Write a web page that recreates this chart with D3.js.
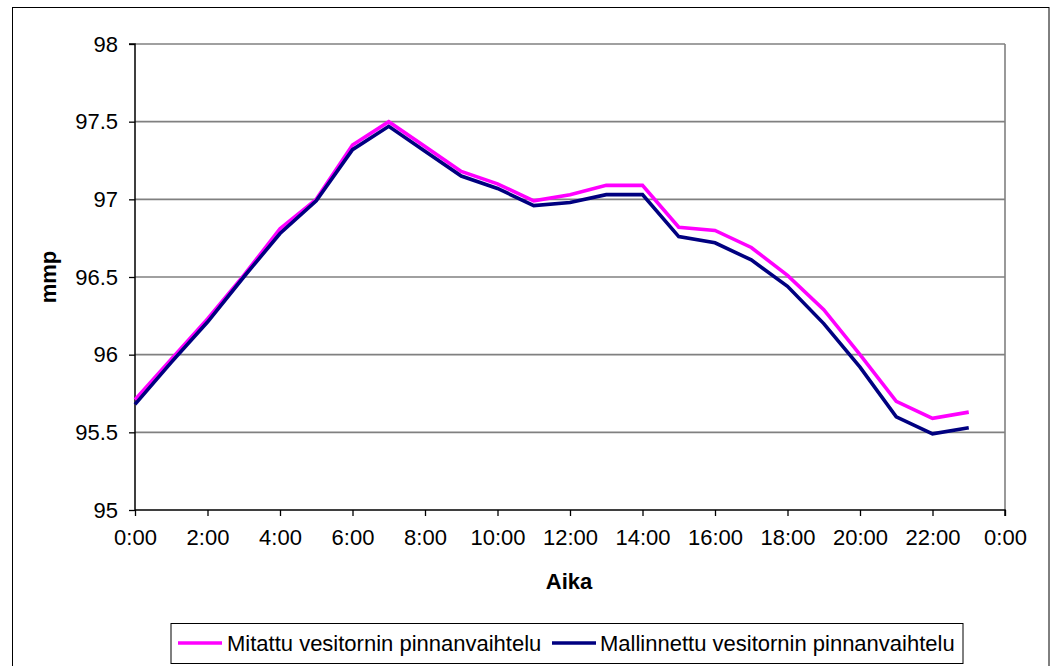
<!DOCTYPE html>
<html>
<head>
<meta charset="utf-8">
<script src="https://cdn.jsdelivr.net/npm/d3@7"></script>
<style>
  html, body { margin: 0; padding: 0; background: #fff; }
  svg { display: block; font-family: "Liberation Sans", Arial, sans-serif; }
</style>
</head>
<body>
<svg id="chart" width="1056" height="666"></svg>
<script>
// Hourly water tower level (mmp), measured vs. modelled
const hours = [0, 1, 2, 3, 4, 5, 6, 7, 8, 9, 10, 11, 12, 13, 14, 15, 16, 17, 18, 19, 20, 21, 22, 23];
const measured = [95.71, 95.97, 96.23, 96.51, 96.81, 97.00, 97.35, 97.50, 97.34, 97.18, 97.10, 96.99,
                  97.03, 97.09, 97.09, 96.82, 96.80, 96.69, 96.51, 96.29, 96.00, 95.70, 95.59, 95.63];
const modelled = [95.68, 95.95, 96.21, 96.50, 96.78, 96.99, 97.32, 97.47, 97.31, 97.15, 97.07, 96.96,
                  96.98, 97.03, 97.03, 96.76, 96.72, 96.61, 96.44, 96.20, 95.92, 95.60, 95.49, 95.53];
const xTicks = [0, 2, 4, 6, 8, 10, 12, 14, 16, 18, 20, 22, 24];
const xTickLabels = ["0:00", "2:00", "4:00", "6:00", "8:00", "10:00", "12:00", "14:00", "16:00", "18:00", "20:00", "22:00", "0:00"];
const yTicks = [95, 95.5, 96, 96.5, 97, 97.5, 98];
const seriesNames = ["Mitattu vesitornin pinnanvaihtelu", "Mallinnettu vesitornin pinnanvaihtelu"];
const seriesColors = ["#ff00ff", "#000080"];

const svg = d3.select("#chart");

// outer chart frame
svg.append("rect")
  .attr("x", 12.5).attr("y", 7.5)
  .attr("width", 1036.5).attr("height", 670)
  .attr("fill", "none").attr("stroke", "#000").attr("stroke-width", 1);

const x = d3.scaleLinear().domain([0, 24]).range([135, 1005]);
const y = d3.scaleLinear().domain([95, 98]).range([510, 44]);

// horizontal gridlines
svg.append("g")
  .selectAll("line")
  .data(yTicks.filter(v => v > 95))
  .join("line")
  .attr("x1", x(0)).attr("x2", x(24))
  .attr("y1", d => y(d)).attr("y2", d => y(d))
  .attr("stroke", "#808080").attr("stroke-width", 1.6);

// right edge of plot area
svg.append("line")
  .attr("x1", x(24)).attr("x2", x(24))
  .attr("y1", y(98)).attr("y2", y(95))
  .attr("stroke", "#808080").attr("stroke-width", 1.6);

// axes
const yAxis = d3.axisLeft(y).tickValues(yTicks).tickSize(6).tickPadding(11)
  .tickFormat(d => String(d));
const gy = svg.append("g").attr("transform", `translate(${x(0)},0)`).call(yAxis);

const xAxis = d3.axisBottom(x).tickValues(xTicks).tickSize(6).tickPadding(13)
  .tickFormat((d, i) => xTickLabels[i]);
const gx = svg.append("g").attr("transform", `translate(0,${y(95)})`).call(xAxis);

[gx, gy].forEach(g => {
  g.select(".domain").attr("stroke", "#000").attr("stroke-width", 1.5);
  g.selectAll(".tick line").attr("stroke", "#000").attr("stroke-width", 1.3);
  g.selectAll(".tick text")
    .attr("font-family", "'Liberation Sans', Arial, sans-serif")
    .attr("font-size", 22).attr("fill", "#000");
});
gy.select(".domain").attr("d", `M-6,${y(98)}H0V${y(95)}`);
gx.select(".domain").attr("d", `M${x(0)},0H${x(24)}V6`);

// series lines
const line = d3.line().x((d, i) => x(hours[i])).y(d => y(d));
[measured, modelled].forEach((vals, k) => {
  svg.append("path")
    .datum(vals)
    .attr("d", line)
    .attr("fill", "none")
    .attr("stroke", seriesColors[k])
    .attr("stroke-width", 3.6)
    .attr("stroke-linejoin", "miter");
});

// axis titles
svg.append("text")
  .attr("transform", "translate(56,277) rotate(-90)")
  .attr("text-anchor", "middle")
  .attr("font-size", 22).attr("font-weight", "bold")
  .text("mmp");

svg.append("text")
  .attr("x", 569).attr("y", 589)
  .attr("text-anchor", "middle")
  .attr("font-size", 22).attr("font-weight", "bold")
  .text("Aika");

// legend
const legend = svg.append("g");
legend.append("rect")
  .attr("x", 171).attr("y", 623.5)
  .attr("width", 792).attr("height", 40)
  .attr("fill", "#fff").attr("stroke", "#000").attr("stroke-width", 1);

const legendItems = [
  { lx: 178, tx: 227 },
  { lx: 552, tx: 600 }
];
legendItems.forEach((it, k) => {
  legend.append("line")
    .attr("x1", it.lx).attr("x2", it.lx + 44)
    .attr("y1", 643).attr("y2", 643)
    .attr("stroke", seriesColors[k]).attr("stroke-width", 3.6);
  legend.append("text")
    .attr("x", it.tx).attr("y", 651)
    .attr("font-size", 22)
    .text(seriesNames[k]);
});
</script>
</body>
</html>
